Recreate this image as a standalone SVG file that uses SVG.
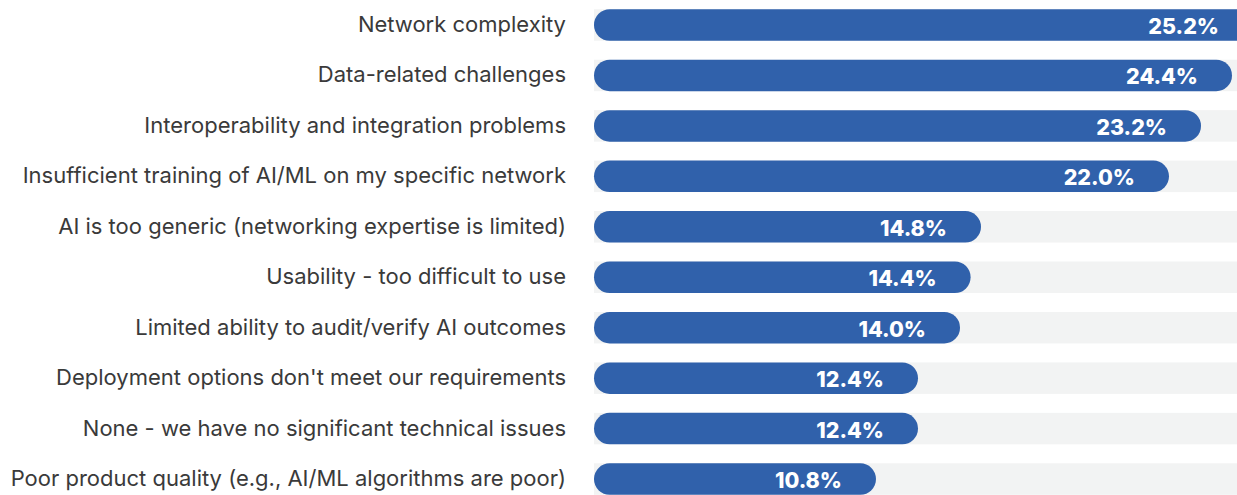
<svg xmlns="http://www.w3.org/2000/svg" width="1237" height="495" viewBox="0 0 1237 495">
<style>
.lbl{font-family:Inter,"Liberation Sans",sans-serif;font-size:22px;fill:#3a3a3a;text-anchor:end}
.val{font-family:Inter,"Liberation Sans",sans-serif;font-size:21.5px;font-weight:800;fill:#ffffff;text-anchor:end}
.track{fill:#f2f3f3}
.bar{fill:#3061ab}
</style>
<rect width="1237" height="495" fill="#ffffff"/>
<g id="row1"><rect class="track" x="594" y="9.25" width="643" height="31.5"/><rect class="bar" x="594" y="9.25" width="659" height="31.5" rx="15.75"/><text class="lbl" x="566" y="32">Network complexity</text><text class="val" x="1219" y="34">25.2%</text></g>
<g id="row2"><rect class="track" x="594" y="59.7" width="643" height="31.5"/><rect class="bar" x="594" y="59.7" width="638" height="31.5" rx="15.75"/><text class="lbl" x="566" y="82.4">Data-related challenges</text><text class="val" x="1198" y="84.4">24.4%</text></g>
<g id="row3"><rect class="track" x="594" y="110.15" width="643" height="31.5"/><rect class="bar" x="594" y="110.15" width="607" height="31.5" rx="15.75"/><text class="lbl" x="566" y="132.9">Interoperability and integration problems</text><text class="val" x="1167" y="134.9">23.2%</text></g>
<g id="row4"><rect class="track" x="594" y="160.6" width="643" height="31.5"/><rect class="bar" x="594" y="160.6" width="575" height="31.5" rx="15.75"/><text class="lbl" x="566" y="183.3">Insufficient training of AI/ML on my specific network</text><text class="val" x="1135" y="185.3">22.0%</text></g>
<g id="row5"><rect class="track" x="594" y="211.05" width="643" height="31.5"/><rect class="bar" x="594" y="211.05" width="387" height="31.5" rx="15.75"/><text class="lbl" x="566" y="233.8">AI is too generic (networking expertise is limited)</text><text class="val" x="947" y="235.8">14.8%</text></g>
<g id="row6"><rect class="track" x="594" y="261.5" width="643" height="31.5"/><rect class="bar" x="594" y="261.5" width="376.6" height="31.5" rx="15.75"/><text class="lbl" x="566" y="284.2">Usability - too difficult to use</text><text class="val" x="936.6" y="286.2">14.4%</text></g>
<g id="row7"><rect class="track" x="594" y="311.95" width="643" height="31.5"/><rect class="bar" x="594" y="311.95" width="366" height="31.5" rx="15.75"/><text class="lbl" x="566" y="334.7">Limited ability to audit/verify AI outcomes</text><text class="val" x="926" y="336.7">14.0%</text></g>
<g id="row8"><rect class="track" x="594" y="362.4" width="643" height="31.5"/><rect class="bar" x="594" y="362.4" width="324" height="31.5" rx="15.75"/><text class="lbl" x="566" y="385.1">Deployment options don't meet our requirements</text><text class="val" x="884" y="387.1">12.4%</text></g>
<g id="row9"><rect class="track" x="594" y="412.85" width="643" height="31.5"/><rect class="bar" x="594" y="412.85" width="324" height="31.5" rx="15.75"/><text class="lbl" x="566" y="435.6">None - we have no significant technical issues</text><text class="val" x="884" y="437.6">12.4%</text></g>
<g id="row10"><rect class="track" x="594" y="463.3" width="643" height="31.5"/><rect class="bar" x="594" y="463.3" width="282" height="31.5" rx="15.75"/><text class="lbl" x="566" y="486">Poor product quality (e.g., AI/ML algorithms are poor)</text><text class="val" x="842" y="488">10.8%</text></g>
<g id="connectors"/>
</svg>
